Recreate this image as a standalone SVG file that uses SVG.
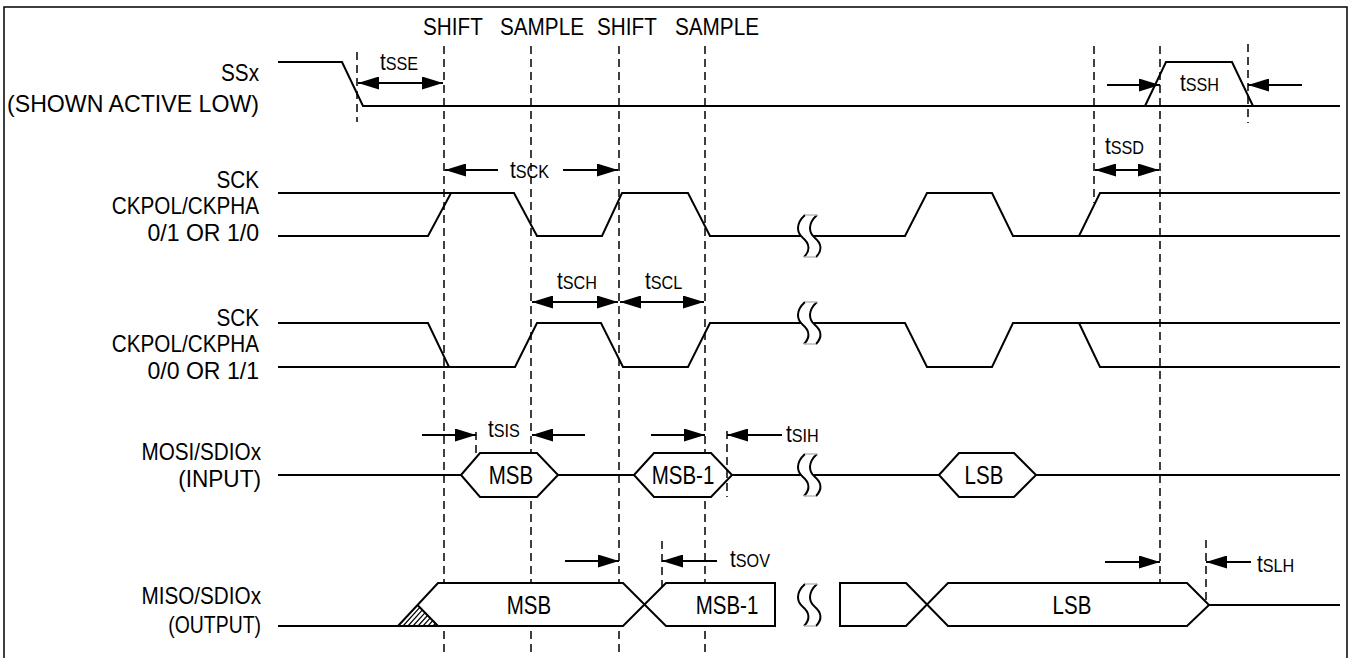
<svg xmlns="http://www.w3.org/2000/svg" width="1351" height="658" viewBox="0 0 1351 658">
<style>
.sig{fill:none;stroke:#000;stroke-width:2;stroke-linejoin:miter}
.dsh{fill:none;stroke:#000;stroke-width:1.5;stroke-dasharray:8 5}
.arr{fill:none;stroke:#000;stroke-width:2}
.lb{font-family:"Liberation Sans",Arial,Helvetica,sans-serif;font-size:23px;fill:#000}
.bt{font-family:"Liberation Sans",Arial,Helvetica,sans-serif;font-size:25px;fill:#000}
.sub{font-size:18px}
.box{fill:#fff;stroke:#000;stroke-width:2}
.wf{fill:#fff;stroke:none}
</style>
<defs>
<marker id="ah" markerUnits="userSpaceOnUse" markerWidth="22" markerHeight="13" refX="21" refY="6.5" orient="auto-start-reverse" viewBox="0 0 22 13"><path d="M0,0 L21,6.5 L0,13 z" fill="#000"/></marker>
<g id="brk">
<path d="M2,-21 C-8,-12 -6,-3 0,2 C6,7 8,14 1,21 L13,21 C20,14 18,7 12,2 C6,-3 4,-12 14,-21 Z" fill="#fff" stroke="none"/>
<path d="M2,-21 C-8,-12 -6,-3 0,2 C6,7 8,14 1,21 M14,-21 C4,-12 6,-3 12,2 C18,7 20,14 13,21" fill="none" stroke="#000" stroke-width="2"/>
<path d="M2,-21 H14 M1,21 H13" fill="none" stroke="#bbb" stroke-width="1.5"/>
</g>
</defs>
<rect x="4" y="7" width="1343" height="700" fill="#fff" stroke="#000" stroke-width="1.5"/>

<g id="header">
<text class="lb" transform="translate(423 35) scale(0.9 1)">SHIFT</text>
<text class="lb" transform="translate(500 35) scale(0.9 1)">SAMPLE</text>
<text class="lb" transform="translate(597 35) scale(0.9 1)">SHIFT</text>
<text class="lb" transform="translate(675 35) scale(0.9 1)">SAMPLE</text>
</g>

<g id="guides">
<path class="dsh" d="M357,52 V122 M444,46 V654 M531,46 V654 M619,46 V654 M705,46 V654 M1094,46 V203 M1160,46 V583 M1248,44 V123 M476,432 V453 M662,541 V588 M1206,540 V600"/>
</g>

<g id="ssx">
<text class="lb" text-anchor="end" transform="translate(259 81) scale(0.9 1)">SSx</text>
<text class="lb" text-anchor="end" textLength="280" lengthAdjust="spacingAndGlyphs" transform="translate(259 112) scale(0.9 1)">(SHOWN ACTIVE LOW)</text>
<path class="sig" d="M278,62 H342 L363,106 H1340 M1145,106 L1166,62 H1232 L1253,106"/>
</g>

<g id="sck1">
<text class="lb" text-anchor="end" transform="translate(259 188) scale(0.9 1)">SCK</text>
<text class="lb" text-anchor="end" transform="translate(259 214) scale(0.9 1)">CKPOL/CKPHA</text>
<text class="lb" text-anchor="end" textLength="124" lengthAdjust="spacingAndGlyphs" transform="translate(259 241) scale(0.9 1)">0/1 OR 1/0</text>
<path class="sig" d="M278,193 H451 M278,236 H428 L451,193 H514 L537,236 H602 L622,193 H688 L710,236 H905 L927,193 H992 L1013,236 H1079 L1100,193 H1340 M1079,236 H1340"/>
<use href="#brk" x="803" y="236"/>
</g>

<g id="sck2">
<text class="lb" text-anchor="end" transform="translate(259 326) scale(0.9 1)">SCK</text>
<text class="lb" text-anchor="end" transform="translate(259 352) scale(0.9 1)">CKPOL/CKPHA</text>
<text class="lb" text-anchor="end" textLength="124" lengthAdjust="spacingAndGlyphs" transform="translate(259 379) scale(0.9 1)">0/0 OR 1/1</text>
<path class="sig" d="M278,367 H449 M278,323 H428 L449,367 H515 L537,323 H601 L623,367 H688 L710,323 H905 L927,367 H992 L1013,323 H1340 M1079,323 L1100,367 H1340"/>
<use href="#brk" x="803" y="323"/>
</g>

<g id="mosi">
<text class="lb" text-anchor="end" transform="translate(261 460) scale(0.9 1)">MOSI/SDIOx</text>
<text class="lb" text-anchor="end" textLength="92" lengthAdjust="spacingAndGlyphs" transform="translate(261 487) scale(0.9 1)">(INPUT)</text>
<path class="sig" d="M278,475 H461 M558,475 H634 M732,475 H939 M1036,475 H1340"/>
<path class="box" d="M461,475 L480,453 H537 L558,475 L537,497 H480 Z"/>
<path class="box" d="M634,475 L654,453 H711 L732,475 L711,497 H654 Z"/>
<path class="box" d="M939,475 L959,453 H1014 L1036,475 L1014,497 H959 Z"/>
<text class="bt" text-anchor="middle" transform="translate(511 484) scale(0.82 1)">MSB</text>
<text class="bt" text-anchor="middle" transform="translate(683 484) scale(0.82 1)">MSB-1</text>
<text class="bt" text-anchor="middle" transform="translate(984 484) scale(0.82 1)">LSB</text>
<use href="#brk" x="803" y="475"/>
</g>

<g id="miso">
<text class="lb" text-anchor="end" transform="translate(261 604) scale(0.9 1)">MISO/SDIOx</text>
<text class="lb" text-anchor="end" textLength="103" lengthAdjust="spacingAndGlyphs" transform="translate(261 633) scale(0.9 1)">(OUTPUT)</text>
<path class="wf" d="M438,583 H623 L644.5,604.5 L623,626 H398 Z M644.5,604.5 L666,583 H775 V626 H666 Z"/>
<path class="sig" d="M278,626 H623 L666,583 H775 V626 H666 L623,583 H438 L398,626 M417.5,605 L438,626"/>
<path d="M403,626 L419.6,607.6 M408,626 L422.2,610.2 M413,626 L424.9,612.9 M418,626 L427.5,615.5 M423,626 L430.1,618.1 M428,626 L432.7,620.7 M433,626 L435.4,623.4" stroke="#000" stroke-width="1.2" fill="none"/>
<path class="sig" d="M906,583 L948,626 H1187 L1209,605 L1187,583 H948 L906,626 H840 V583 Z M1209,605 H1340" style="fill:#fff"/>
<text class="bt" text-anchor="middle" transform="translate(529 614) scale(0.82 1)">MSB</text>
<text class="bt" text-anchor="middle" transform="translate(727 614) scale(0.82 1)">MSB-1</text>
<text class="bt" text-anchor="middle" transform="translate(1072 614) scale(0.82 1)">LSB</text>
<use href="#brk" x="803" y="605"/>
</g>

<g id="connectors">
<path class="dsh" d="M727,431 V497"/>
<path class="arr" d="M358,83 H443" marker-start="url(#ah)" marker-end="url(#ah)"/>
<path class="arr" d="M1107,85 H1160" marker-end="url(#ah)"/>
<path class="arr" d="M1302,85 H1248" marker-end="url(#ah)"/>
<path class="arr" d="M1095,170 H1159" marker-start="url(#ah)" marker-end="url(#ah)"/>
<path class="arr" d="M498,170 H445" marker-end="url(#ah)"/>
<path class="arr" d="M563,170 H618" marker-end="url(#ah)"/>
<path class="arr" d="M532,302 H618" marker-start="url(#ah)" marker-end="url(#ah)"/>
<path class="arr" d="M620,302 H704" marker-start="url(#ah)" marker-end="url(#ah)"/>
<path class="arr" d="M422,435 H476" marker-end="url(#ah)"/>
<path class="arr" d="M585,435 H532" marker-end="url(#ah)"/>
<path class="arr" d="M651,435 H705" marker-end="url(#ah)"/>
<path class="arr" d="M782,435 H727" marker-end="url(#ah)"/>
<path class="arr" d="M565,561 H619" marker-end="url(#ah)"/>
<path class="arr" d="M717,561 H662" marker-end="url(#ah)"/>
<path class="arr" d="M1105,562 H1160" marker-end="url(#ah)"/>
<path class="arr" d="M1251,562 H1206" marker-end="url(#ah)"/>
<text class="lb" transform="translate(380 70) scale(0.9 1)">t<tspan class="sub">SSE</tspan></text>
<text class="lb" transform="translate(1180 91) scale(0.9 1)">t<tspan class="sub">SSH</tspan></text>
<text class="lb" transform="translate(1105 154) scale(0.9 1)">t<tspan class="sub">SSD</tspan></text>
<text class="lb" transform="translate(510 178) scale(0.9 1)">t<tspan class="sub">SCK</tspan></text>
<text class="lb" transform="translate(557 289) scale(0.9 1)">t<tspan class="sub">SCH</tspan></text>
<text class="lb" transform="translate(645 289) scale(0.9 1)">t<tspan class="sub">SCL</tspan></text>
<text class="lb" transform="translate(488 437) scale(0.9 1)">t<tspan class="sub">SIS</tspan></text>
<text class="lb" transform="translate(786 442) scale(0.9 1)">t<tspan class="sub">SIH</tspan></text>
<text class="lb" transform="translate(730 567) scale(0.9 1)">t<tspan class="sub">SOV</tspan></text>
<text class="lb" transform="translate(1257 572) scale(0.9 1)">t<tspan class="sub">SLH</tspan></text>
</g>
</svg>
